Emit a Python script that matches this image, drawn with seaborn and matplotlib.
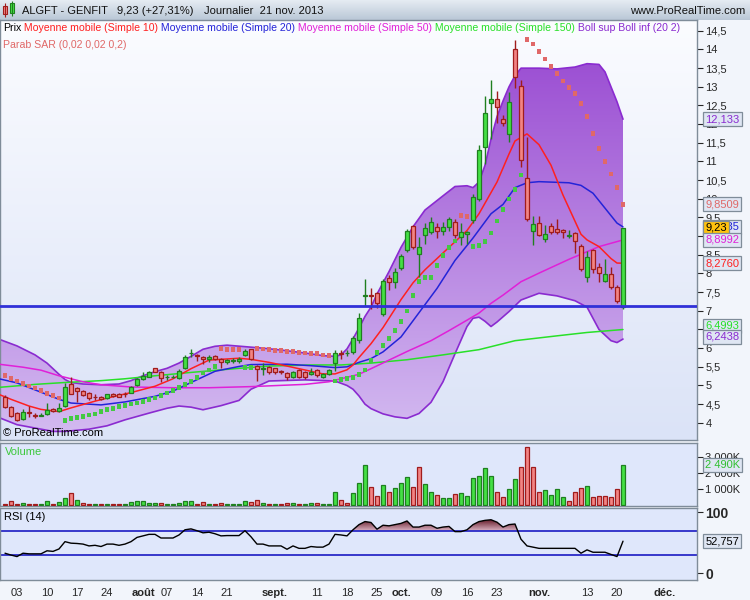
import numpy as np
import pandas as pd
import matplotlib
matplotlib.use('Agg')
import matplotlib.pyplot as plt
import seaborn as sns
from matplotlib.colors import LinearSegmentedColormap
from matplotlib.patches import Polygon, Rectangle
from matplotlib.path import Path
from matplotlib.ticker import FuncFormatter
from matplotlib.transforms import blended_transform_factory

# ---- data (ALGFT daily, 1 Jul -> 21 Nov 2013) ----
opens = [4.70, 4.43, 4.26, 4.10, 4.29, 4.20, 4.19, 4.23, 4.37, 4.33,
         4.45, 5.04, 4.92, 4.85, 4.80, 4.70, 4.69, 4.67, 4.77, 4.77,
         4.77, 4.81, 5.01, 5.17, 5.24, 5.46, 5.37, 5.22, 5.22, 5.19,
         5.46, 5.86, 5.80, 5.76, 5.71, 5.79, 5.71, 5.62, 5.66, 5.65,
         5.81, 5.97, 5.53, 5.45, 5.49, 5.46, 5.40, 5.33, 5.24, 5.42,
         5.37, 5.30, 5.42, 5.22, 5.31, 5.61, 5.86, 5.86, 5.90, 6.22,
         7.41, 7.43, 7.47, 6.92, 7.88, 7.78, 8.15, 8.62, 9.28, 8.51,
         9.04, 9.12, 9.24, 9.15, 9.24, 9.37, 8.99, 9.06, 9.42, 9.99,
         11.40, 12.58, 12.67, 12.13, 11.74, 14.01, 13.03, 10.55, 9.15, 9.35,
         8.92, 9.28, 9.19, 9.17, 9.01, 9.08, 8.74, 7.90, 8.63, 8.17,
         7.81, 7.98, 7.63, 7.10]
closes = [4.43, 4.17, 4.08, 4.30, 4.27, 4.18, 4.21, 4.35, 4.31, 4.41,
          4.95, 4.78, 4.85, 4.74, 4.67, 4.69, 4.64, 4.76, 4.72, 4.70,
          4.76, 4.95, 5.17, 5.26, 5.37, 5.37, 5.19, 5.23, 5.24, 5.39,
          5.76, 5.87, 5.79, 5.71, 5.76, 5.71, 5.62, 5.67, 5.67, 5.72,
          5.92, 5.71, 5.44, 5.47, 5.35, 5.35, 5.35, 5.22, 5.37, 5.24,
          5.24, 5.35, 5.28, 5.30, 5.42, 5.88, 5.84, 5.88, 6.28, 6.80,
          7.43, 7.41, 7.21, 7.80, 7.76, 8.04, 8.47, 9.13, 8.71, 8.71,
          9.21, 9.37, 9.15, 9.24, 9.46, 9.04, 9.12, 9.12, 10.05, 11.31,
          12.30, 12.67, 12.47, 12.04, 12.60, 13.26, 11.03, 9.46, 9.33, 9.03,
          9.06, 9.10, 9.10, 9.11, 9.03, 8.88, 8.13, 8.44, 8.13, 8.01,
          7.98, 7.65, 7.26, 9.23]
highs = [4.75, 4.45, 4.28, 4.38, 4.45, 4.26, 4.25, 4.53, 4.40, 4.53,
         5.07, 5.22, 4.97, 4.88, 4.82, 4.76, 4.71, 4.78, 4.80, 4.79,
         4.82, 4.98, 5.20, 5.35, 5.40, 5.48, 5.39, 5.28, 5.27, 5.45,
         5.82, 5.98, 5.84, 5.80, 5.81, 5.82, 5.73, 5.72, 5.74, 5.76,
         5.98, 5.99, 5.56, 5.60, 5.52, 5.48, 5.42, 5.35, 5.39, 5.44,
         5.39, 5.47, 5.44, 5.33, 5.45, 5.95, 5.95, 5.95, 6.33, 6.94,
         7.85, 7.60, 7.50, 7.85, 7.95, 8.15, 8.52, 9.20, 9.30, 8.98,
         9.35, 9.52, 9.35, 9.38, 9.50, 9.45, 9.35, 9.14, 10.12, 11.45,
         12.76, 13.19, 12.90, 12.25, 12.85, 14.26, 13.17, 11.65, 9.55, 9.55,
         9.30, 9.36, 9.46, 9.20, 9.17, 9.10, 8.80, 8.60, 8.66, 8.28,
         8.40, 8.18, 7.68, 9.23]
lows = [4.40, 4.15, 4.05, 4.08, 4.15, 4.12, 4.17, 4.20, 4.28, 4.30,
        4.42, 4.76, 4.57, 4.72, 4.62, 4.62, 4.62, 4.65, 4.70, 4.68,
        4.70, 4.79, 4.99, 5.15, 5.22, 5.35, 5.10, 5.15, 5.20, 5.17,
        5.44, 5.76, 5.65, 5.58, 5.62, 5.69, 5.46, 5.58, 5.60, 5.60,
        5.79, 5.69, 5.12, 5.27, 5.30, 5.30, 5.32, 5.14, 5.20, 5.20,
        5.18, 5.28, 5.24, 5.20, 5.29, 5.40, 5.72, 5.80, 5.85, 6.15,
        7.12, 7.05, 7.08, 6.85, 7.55, 7.62, 8.10, 8.58, 8.65, 7.90,
        8.80, 9.05, 8.95, 9.02, 9.15, 8.95, 8.75, 8.80, 9.35, 9.95,
        10.94, 11.60, 12.04, 11.95, 11.51, 12.96, 10.85, 9.40, 8.75, 9.00,
        8.85, 9.05, 9.05, 8.95, 8.95, 8.55, 8.07, 7.78, 8.02, 7.76,
        7.78, 7.58, 7.21, 7.04]

volume_k = [105, 250, 105, 165, 105, 60, 60, 290, 60, 230,
            480, 790, 350, 165, 105, 105, 60, 105, 60, 60,
            105, 230, 290, 290, 165, 165, 165, 60, 60, 165,
            290, 290, 105, 230, 60, 60, 165, 60, 105, 60,
            290, 230, 350, 165, 105, 60, 60, 165, 165, 105,
            105, 165, 165, 60, 70, 810, 310, 145, 750, 1370,
            2490, 1120, 560, 1245, 810, 1060, 1370, 1740, 1120, 2365,
            1310, 810, 620, 435, 435, 685, 750, 560, 1680, 1805,
            2300, 1805, 810, 500, 1000, 1620, 2365, 3610, 2365, 810,
            935, 620, 1000, 500, 250, 810, 1060, 1180, 500, 560,
            560, 500, 1000, 2490]
volume_up = [0, 0, 0, 1, 0, 0, 1, 1, 0, 1,
             1, 0, 1, 0, 0, 1, 0, 1, 0, 0,
             1, 1, 1, 1, 1, 1, 0, 1, 1, 1,
             1, 1, 0, 0, 1, 0, 0, 1, 1, 1,
             1, 0, 0, 1, 0, 1, 0, 0, 1, 0,
             1, 1, 0, 1, 1, 1, 0, 0, 1, 1,
             1, 0, 0, 1, 0, 1, 1, 1, 0, 0,
             1, 1, 0, 1, 1, 0, 1, 1, 1, 1,
             1, 1, 0, 0, 1, 1, 0, 0, 0, 0,
             1, 1, 1, 1, 0, 0, 0, 1, 0, 0,
             0, 0, 0, 1]

rsi14 = [33, 30, 27.5, 33, 32, 32, 32, 37, 36, 40,
         52, 49.5, 49, 48, 45, 46, 44, 48, 48, 46,
         48, 52, 59, 61.5, 64, 64, 58, 58, 58, 63,
         71.5, 73, 70, 66.5, 67.5, 65, 61.5, 62, 62, 62,
         70, 60, 48, 48, 45, 45, 45, 39.5, 45, 41,
         41, 44, 43, 43, 48, 64, 63, 61.5, 71.5, 80,
         85, 83.5, 72.5, 79, 78, 80, 82, 86, 76, 76,
         79, 79, 74, 76, 77, 68.5, 68.5, 71.5, 80, 85,
         87, 88, 84, 76, 80, 81, 56, 45, 43, 41,
         41, 41, 41, 41, 41, 41, 33, 38.5, 34.6, 34.6,
         34.6, 31, 27.5, 52.757]

sar = [5.27, 5.18, 5.12, 5.06, 4.99, 4.93, 4.86, 4.79, 4.73, 4.66,
       4.06, 4.11, 4.14, 4.17, 4.21, 4.24, 4.30, 4.35, 4.39, 4.44,
       4.46, 4.50, 4.53, 4.57, 4.62, 4.66, 4.73, 4.80, 4.87, 4.95,
       5.02, 5.11, 5.22, 5.33, 5.42, 5.51, 5.99, 5.97, 5.96, 5.96,
       5.48, 5.48, 5.99, 5.98, 5.96, 5.94, 5.93, 5.91, 5.91, 5.88,
       5.87, 5.85, 5.85, 5.82, 5.80, 5.12, 5.16, 5.19, 5.22, 5.29,
       5.42, 5.67, 5.88, 6.07, 6.26, 6.47, 6.71, 7.00, 7.41, 7.79,
       7.90, 7.90, 8.21, 8.48, 8.70, 8.87, 9.55, 9.52, 8.72, 8.75,
       8.86, 9.08, 9.41, 9.71, 10.00, 10.25, 10.64, 14.26, 14.15, 13.94,
       13.75, 13.54, 13.36, 13.16, 12.98, 12.82, 12.55, 12.20, 11.75, 11.34,
       11.00, 10.67, 10.30, 9.8509]
sar_up = [0] * 10 + [1] * 26 + [0] * 4 + [1] * 2 + [0] * 13 + [1] * 21 + [0] * 2 + [1] * 9 + [0] * 17

# indicator lines, sampled at trading-day numbers (day 1 = 1 Jul 2013)
ma10_day = [0, 2, 5, 7, 10, 12, 16, 19, 22, 26, 29, 32, 35, 40, 42, 45, 48, 52, 54, 56, 58, 59, 60,
            62, 64, 67, 69, 71, 74, 78, 80, 83, 85, 86, 88, 90, 92, 94, 96, 97, 98, 100, 102, 103, 104]
ma10_val = [4.76, 4.63, 4.45, 4.36, 4.30, 4.40, 4.58, 4.70, 4.81, 4.98, 5.18, 5.45, 5.68, 5.73, 5.70,
            5.62, 5.52, 5.38, 5.31, 5.31, 5.42, 5.55, 5.75, 6.12, 6.55, 7.30, 7.75, 8.10, 8.55, 9.15,
            9.60, 10.45, 11.20, 11.55, 11.74, 11.45, 10.90, 10.10, 9.40, 9.05, 8.90, 8.72, 8.40, 8.28, 8.2760]
ma20_day = [0, 3, 7, 10, 12, 17, 21, 26, 29, 32, 36, 40, 42, 48, 52, 56, 58, 60, 62, 64, 67, 70,
            73, 76, 79, 82, 84, 86, 88, 90, 95, 97, 99, 101, 103, 104]
ma20_val = [5.18, 5.07, 4.82, 4.63, 4.53, 4.48, 4.56, 4.71, 4.85, 5.08, 5.38, 5.51, 5.56, 5.57, 5.53,
            5.48, 5.50, 5.62, 5.72, 5.90, 6.30, 6.95, 7.60, 8.35, 8.95, 9.60, 9.85, 10.30, 10.43, 10.46,
            10.43, 10.36, 10.15, 9.75, 9.35, 9.2485]
ma50_day = [0, 4, 7, 10, 14, 17, 22, 29, 35, 42, 51, 55, 57, 60, 62, 65, 68, 72, 75, 78, 80, 82,
            84, 87, 90, 95, 100, 104]
ma50_val = [5.57, 5.49, 5.41, 5.26, 5.10, 5.02, 4.96, 4.94, 4.94, 4.97, 5.03, 5.10, 5.18, 5.30, 5.45,
            5.68, 5.91, 6.20, 6.47, 6.75, 6.94, 7.20, 7.42, 7.78, 8.01, 8.38, 8.72, 8.8992]
ma150_day = [0, 6, 11, 17, 21, 26, 32, 40, 45, 52, 57, 62, 68, 74, 80, 83, 86, 93, 98, 104]
ma150_val = [4.95, 5.03, 5.08, 5.13, 5.18, 5.26, 5.35, 5.46, 5.52, 5.55, 5.55, 5.60, 5.69, 5.82, 5.96,
             6.08, 6.20, 6.33, 6.42, 6.4993]
bb_up_day = [0, 3, 6, 8, 10, 11, 12, 14, 17, 20, 22, 24, 26, 28, 30, 32, 34, 36, 38, 41, 44, 47, 51,
             54, 56, 57, 58, 59, 60, 61, 62, 63, 65, 67, 69, 71, 74, 76, 78, 79, 80, 81, 82, 83, 84,
             85, 86, 87, 90, 93, 96, 98, 100, 101, 102, 103, 104]
bb_up_val = [6.24, 6.06, 5.82, 5.60, 5.30, 5.16, 5.08, 5.04, 5.02, 5.04, 5.13, 5.26, 5.37, 5.46, 5.60,
             5.78, 5.97, 6.05, 6.08, 6.04, 6.00, 5.95, 5.87, 5.80, 5.78, 5.82, 5.98, 6.25, 6.54, 6.85,
             7.10, 7.45, 8.05, 8.70, 9.25, 9.70, 10.08, 10.33, 10.35, 10.30, 10.45, 10.90, 11.60, 12.20,
             12.62, 13.00, 13.30, 13.50, 13.50, 13.48, 13.53, 13.62, 13.60, 13.40, 13.00, 12.60, 12.133]
bb_lo_day = [0, 3, 6, 9, 11, 15, 18, 21, 25, 28, 30, 32, 34, 37, 40, 42, 45, 51, 56, 57, 58, 59, 60,
             61, 62, 64, 66, 68, 70, 72, 74, 76, 78, 79, 80, 81, 82, 83, 85, 87, 90, 93, 96, 98, 99,
             100, 102, 103, 104]
bb_lo_val = [4.14, 3.95, 3.86, 3.77, 3.77, 3.83, 3.92, 4.08, 4.26, 4.39, 4.45, 4.42, 4.35, 4.46, 4.60,
             4.90, 5.12, 5.15, 5.12, 5.06, 5.00, 4.90, 4.72, 4.50, 4.38, 4.24, 4.16, 4.12, 4.25, 4.55,
             5.10, 5.85, 6.58, 6.80, 6.83, 6.72, 6.58, 6.70, 6.98, 7.29, 7.47, 7.40, 7.27, 7.10, 6.80,
             6.50, 6.20, 6.15, 6.2438]
support_level = 7.14

tick_dates = ['2013-07-03', '2013-07-10', '2013-07-17', '2013-07-24', '2013-08-01', '2013-08-07',
              '2013-08-14', '2013-08-21', '2013-09-02', '2013-09-11', '2013-09-18', '2013-09-25',
              '2013-10-01', '2013-10-09', '2013-10-16', '2013-10-23', '2013-11-01', '2013-11-13',
              '2013-11-20', '2013-12-02']
tick_labels = ['03', '10', '17', '24', 'août', '07', '14', '21', 'sept.', '11', '18', '25',
               'oct.', '09', '16', '23', 'nov.', '13', '20', 'déc.']
month_labels = {'août', 'sept.', 'oct.', 'nov.', 'déc.'}

# ---- colours ----
C_MA10, C_MA20, C_MA50, C_MA150 = '#ff2020', '#2424d8', '#e020d8', '#28e028'
C_BOLL, C_SAR_UP, C_SAR_DN = '#8a2bd0', '#44c844', '#e06868'
UP_FILL, UP_EDGE, DN_FILL, DN_EDGE = '#44e044', '#1f7f1f', '#f28484', '#a01c1c'
GRID_EDGE = '#7f8c99'

sns.set_style('white')
plt.rcParams['font.family'] = ['Liberation Sans', 'DejaVu Sans']

W, H = 750, 600
fig = plt.figure(figsize=(7.5, 6), dpi=100, facecolor='#f2f5fb')


def px_axes(x0, y0, x1, y1):
    return fig.add_axes([x0 / W, 1 - y1 / H, (x1 - x0) / W, (y1 - y0) / H])


def vgrad(ax, c_bottom, c_top, zorder, extent=None, clip=None):
    cmap = LinearSegmentedColormap.from_list('g', [c_bottom, c_top])
    kw = dict(cmap=cmap, origin='lower', aspect='auto', zorder=zorder, interpolation='bilinear')
    if extent is None:
        im = ax.imshow(np.linspace(0, 1, 256)[:, None], extent=(0, 1, 0, 1), transform=ax.transAxes, **kw)
    else:
        im = ax.imshow(np.linspace(0, 1, 256)[:, None], extent=extent, **kw)
    if clip is not None:
        im.set_clip_path(clip)
    return im


def fmt_comma(v, dec):
    return f'{v:.{dec}f}'.replace('.', ',')


ax_t = px_axes(0, 0, 750, 20)
ax_p = px_axes(0, 20, 697, 440)
ax_v = px_axes(0, 443, 697, 506)
ax_r = px_axes(0, 508, 697, 580)

days = np.arange(1, len(closes) + 1)
XL = (1 - 5 / 6, 1 + 692 / 6)
PY = (3.54, 14.79)

# ---------------- title bar ----------------
vgrad(ax_t, '#b9c7d6', '#e6ecf3', 0)
ax_t.set_xlim(0, 750)
ax_t.set_ylim(20, 0)
ax_t.axis('off')
ax_t.add_patch(Rectangle((3, 6), 4, 8, fc=DN_FILL, ec=DN_EDGE, lw=0.8))
ax_t.vlines(5, 3, 17, color=DN_EDGE, lw=0.8)
ax_t.add_patch(Rectangle((10, 3), 4, 10, fc=UP_FILL, ec=UP_EDGE, lw=0.8))
ax_t.vlines(12, 1, 16, color=UP_EDGE, lw=0.8)
for x0, s in [(22, 'ALGFT - GENFIT'), (117, '9,23 (+27,31%)'), (204, 'Journalier  21 nov. 2013')]:
    ax_t.text(x0, 10.5, s, fontsize=8, va='center', ha='left', color='#111111')
ax_t.text(745, 10.5, 'www.ProRealTime.com', fontsize=8, va='center', ha='right', color='#111111')

# ---------------- price panel ----------------
vgrad(ax_p, '#dbe3f7', '#fbfcff', -5)
band = Polygon(list(zip(bb_up_day, bb_up_val)) + list(zip(bb_lo_day[::-1], bb_lo_val[::-1])),
               closed=True, fc='none', ec='none', transform=ax_p.transData)
ax_p.add_patch(band)
vgrad(ax_p, '#d4bcf1', '#9644d0', 1, extent=(XL[0], XL[1], PY[0], PY[1]), clip=band)

sns.lineplot(x=bb_up_day, y=bb_up_val, color=C_BOLL, linewidth=1.2, ax=ax_p, zorder=2)
sns.lineplot(x=bb_lo_day, y=bb_lo_val, color=C_BOLL, linewidth=1.2, ax=ax_p, zorder=2)
sns.lineplot(x=ma150_day, y=ma150_val, color=C_MA150, linewidth=1.1, ax=ax_p, zorder=3)
sns.lineplot(x=ma50_day, y=ma50_val, color=C_MA50, linewidth=1.1, ax=ax_p, zorder=3)
sns.lineplot(x=ma20_day, y=ma20_val, color=C_MA20, linewidth=1.1, ax=ax_p, zorder=3)
sns.lineplot(x=ma10_day, y=ma10_val, color=C_MA10, linewidth=1.1, ax=ax_p, zorder=3)

sar_df = pd.DataFrame({'day': days, 'sar': sar, 'up': sar_up})
sns.scatterplot(data=sar_df, x='day', y='sar', hue='up', palette={1: C_SAR_UP, 0: C_SAR_DN},
                marker='s', s=11, linewidth=0, legend=False, ax=ax_p, zorder=4)

o, c, hi, lo = map(np.array, (opens, closes, highs, lows))
is_up = c >= o
edge = np.where(is_up, UP_EDGE, DN_EDGE)
ax_p.vlines(days, lo, hi, colors=edge, linewidth=1, zorder=5)
ax_p.bar(days, np.maximum(np.abs(c - o), 0.015), bottom=np.minimum(o, c), width=0.72,
         color=np.where(is_up, UP_FILL, DN_FILL), edgecolor=edge, linewidth=0.9, zorder=6)
ax_p.axhline(support_level, color='#3030d8', linewidth=2, zorder=7)

ax_p.set_xlim(XL)
ax_p.set_ylim(PY)
ax_p.set_xticks([])
ax_p.set_yticks(np.arange(4, 14.51, 0.5))
ax_p.yaxis.set_major_formatter(FuncFormatter(lambda v, _: f'{v:g}'.replace('.', ',')))

legend_parts = [('Prix', 'black'), (' Moyenne mobile (Simple 10)', C_MA10),
                (' Moyenne mobile (Simple 20)', C_MA20), (' Moyenne mobile (Simple 50)', C_MA50),
                (' Moyenne mobile (Simple 150)', C_MA150), (' Boll sup Boll inf (20 2)', C_BOLL)]
prev = None
for s, col in legend_parts:
    if prev is None:
        prev = ax_p.text(3 / 697, (440 - 28) / 420, s, color=col, fontsize=7.6,
                         transform=ax_p.transAxes, va='center', ha='left', zorder=9)
    else:
        prev = ax_p.annotate(s, xy=(1, 0), xycoords=prev, color=col, fontsize=7.6,
                             va='bottom', ha='left', zorder=9)
ax_p.text(3 / 697, (440 - 45) / 420, 'Parab SAR (0,02 0,02 0,2)', color=C_SAR_DN, fontsize=7.6,
          transform=ax_p.transAxes, va='center', ha='left', zorder=9)
ax_p.text(3 / 697, (440 - 433) / 420, '© ProRealTime.com', color='black', fontsize=8,
          transform=ax_p.transAxes, va='center', ha='left', zorder=9)

# value tags on the price axis
tr_p = blended_transform_factory(ax_p.transAxes, ax_p.transData)
tags = [(bb_up_val[-1], fmt_comma(bb_up_val[-1], 3), C_BOLL, '#dfe6f3'),
        (sar[-1], fmt_comma(sar[-1], 4), C_SAR_DN, '#dfe6f3'),
        (ma20_val[-1], fmt_comma(ma20_val[-1], 4), C_MA20, '#dfe6f3'),
        (closes[-1], fmt_comma(closes[-1], 2), 'black', '#ffc20e'),
        (ma50_val[-1], fmt_comma(ma50_val[-1], 4), C_MA50, '#dfe6f3'),
        (ma10_val[-1], fmt_comma(ma10_val[-1], 4), C_MA10, '#dfe6f3'),
        (ma150_val[-1] + 0.1, fmt_comma(ma150_val[-1], 4), C_MA150, '#dfe6f3'),
        (bb_lo_val[-1] + 0.06, fmt_comma(bb_lo_val[-1], 4), C_BOLL, '#dfe6f3')]
for k, (y, s, col, fc) in enumerate(tags):
    ax_p.text(1.012, y, s, transform=tr_p, color=col, fontsize=8, va='center', ha='left',
              clip_on=False, zorder=20 + k,
              bbox=dict(boxstyle='square,pad=0.18', fc=fc, ec=GRID_EDGE, lw=0.9))

# ---------------- volume panel ----------------
ax_v.set_facecolor('#dfe7fb')
vu = np.array(volume_up) == 1
ax_v.bar(days, volume_k, width=0.6, color=np.where(vu, UP_FILL, DN_FILL),
         edgecolor=np.where(vu, UP_EDGE, DN_EDGE), linewidth=0.9, zorder=3)
ax_v.set_xlim(XL)
ax_v.set_ylim(-44, 3877)
ax_v.set_xticks([])
ax_v.set_yticks([1000, 2000, 3000])
ax_v.set_yticklabels(['1 000K', '2 000K', '3 000K'])
ax_v.text(5 / 697, (506 - 452) / 63, 'Volume', color='#3cc83c', fontsize=8, transform=ax_v.transAxes,
          va='center', ha='left')
tr_v = blended_transform_factory(ax_v.transAxes, ax_v.transData)
ax_v.text(1.012, volume_k[-1], f'{volume_k[-1] // 1000} {volume_k[-1] % 1000:03d}K', transform=tr_v,
          color='#30c030', fontsize=8, va='center', ha='left', clip_on=False, zorder=20,
          bbox=dict(boxstyle='square,pad=0.18', fc='#dfe6f3', ec=GRID_EDGE, lw=0.9))

# ---------------- RSI panel ----------------
ax_r.set_facecolor('#dfe7fb')
rsi_arr = np.array(rsi14)
hot = ax_r.fill_between(days, rsi_arr, 70, where=rsi_arr > 70, interpolate=True,
                        facecolor='none', edgecolor='none')
hot_path = Path.make_compound_path(*hot.get_paths())
vgrad(ax_r, '#dcb4c4', '#6a2230', 1, extent=(XL[0], XL[1], 70, 87), clip=(hot_path, ax_r.transData))
ax_r.axhline(70, color='#2a2ac8', linewidth=1.3, zorder=2)
ax_r.axhline(30, color='#2a2ac8', linewidth=1.3, zorder=2)
sns.lineplot(x=days, y=rsi14, color='black', linewidth=1, ax=ax_r, zorder=3)
ax_r.set_xlim(XL)
ax_r.set_ylim(-11, 107.3)
ax_r.set_yticks([0, 100])
ax_r.set_yticklabels(['0', '100'], fontweight='bold', fontsize=10)
ax_r.text(4 / 697, (580 - 517) / 72, 'RSI (14)', color='black', fontsize=8, transform=ax_r.transAxes,
          va='center', ha='left')
tr_r = blended_transform_factory(ax_r.transAxes, ax_r.transData)
ax_r.text(1.012, rsi14[-1], fmt_comma(rsi14[-1], 3), transform=tr_r, color='black', fontsize=8,
          va='center', ha='left', clip_on=False, zorder=20,
          bbox=dict(boxstyle='square,pad=0.18', fc='#dfe6f3', ec=GRID_EDGE, lw=0.9))

calendar = pd.bdate_range('2013-07-01', '2013-12-31')
tick_pos = calendar.get_indexer(pd.to_datetime(tick_dates)) + 1
ax_r.set_xticks(tick_pos)
ax_r.set_xticklabels(tick_labels)
for t in ax_r.get_xticklabels():
    t.set_fontsize(8)
    if t.get_text() in month_labels:
        t.set_fontweight('bold')
ax_r.tick_params(axis='x', length=0, pad=6)

for ax in (ax_p, ax_v, ax_r):
    ax.yaxis.tick_right()
    ax.tick_params(axis='y', direction='out', length=4, width=0.8, pad=2, labelsize=8)
    ax.set_xlabel('')
    ax.set_ylabel('')
    for sp in ax.spines.values():
        sp.set_color(GRID_EDGE)
        sp.set_linewidth(1)
ax_r.tick_params(axis='y', labelsize=10)

fig.savefig('out.png', dpi=100, facecolor=fig.get_facecolor())
